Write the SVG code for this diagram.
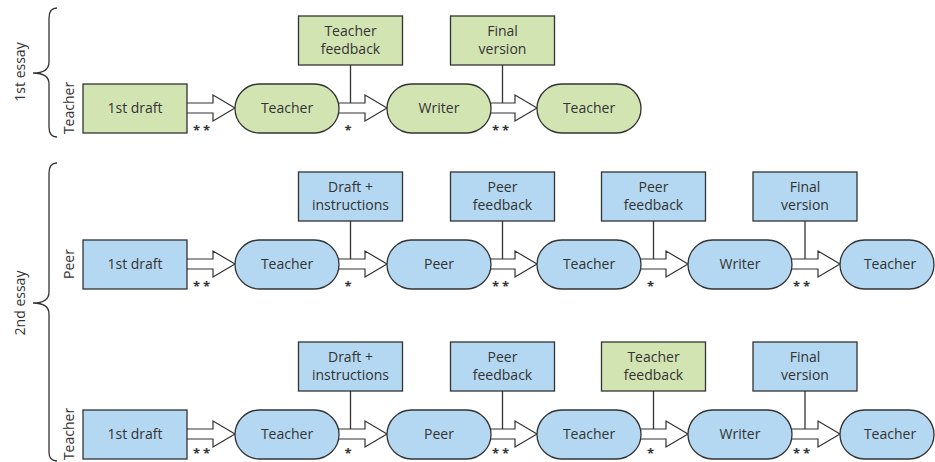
<svg xmlns="http://www.w3.org/2000/svg" width="935" height="462" viewBox="0 0 935 462">
<style>
text{font-family:"Open Sans","Noto Sans","Liberation Sans",sans-serif;font-size:14px;fill:#333;text-anchor:middle}
.g{fill:#d3e4b3;stroke:#333;stroke-width:1.3}
.b{fill:#b4d8f1;stroke:#333;stroke-width:1.3}
.ar{fill:#fff;stroke:#333;stroke-width:1.2;stroke-linejoin:miter}
.ln{stroke:#333;stroke-width:1.3;fill:none}
.br{stroke:#333;stroke-width:1.3;fill:none}
.st{font-weight:bold;font-size:13px;letter-spacing:3px}
</style>
<rect width="935" height="462" fill="#fff"/>
<g id="labels">
<path class="br" d="M57,8 Q49,8 49,18 L49,62 Q49,73 33,73 Q49,73 49,84 L49,127 Q49,137 57,137"/>
<path class="br" d="M57,163 Q49,163 49,173 L49,292 Q49,303 33,303 Q49,303 49,314 L49,452 Q49,461 57,461"/>
<text transform="translate(25,72) rotate(-90)">1st essay</text>
<text transform="translate(25,303) rotate(-90)">2nd essay</text>
<text transform="translate(74,108) rotate(-90)">Teacher</text>
<text transform="translate(74,264) rotate(-90)">Peer</text>
<text transform="translate(74,434) rotate(-90)">Teacher</text>
</g>
<g id="connectors">
<polygon class="ar" points="186,103 213,103 213,95 235,108 213,121 213,113 186,113"/>
<polygon class="ar" points="337,103 365,103 365,95 387,108 365,121 365,113 337,113"/>
<polygon class="ar" points="489,103 515,103 515,95 537,108 515,121 515,113 489,113"/>
<line class="ln" x1="350.5" y1="65" x2="350.5" y2="103"/>
<line class="ln" x1="502.5" y1="65" x2="502.5" y2="103"/>
<text class="st" x="203" y="135">**</text>
<text class="st" x="349.5" y="135">*</text>
<text class="st" x="502" y="135">**</text>
<polygon class="ar" points="186,259 213,259 213,251 235,264 213,277 213,269 186,269"/>
<polygon class="ar" points="337,259 365,259 365,251 387,264 365,277 365,269 337,269"/>
<polygon class="ar" points="489,259 515,259 515,251 537,264 515,277 515,269 489,269"/>
<polygon class="ar" points="639,259 666,259 666,251 688,264 666,277 666,269 639,269"/>
<polygon class="ar" points="790,259 818,259 818,251 840,264 818,277 818,269 790,269"/>
<line class="ln" x1="350.5" y1="221" x2="350.5" y2="259"/>
<line class="ln" x1="502.5" y1="221" x2="502.5" y2="259"/>
<line class="ln" x1="653.5" y1="221" x2="653.5" y2="259"/>
<line class="ln" x1="805" y1="221" x2="805" y2="259"/>
<text class="st" x="203" y="291">**</text>
<text class="st" x="349.5" y="291">*</text>
<text class="st" x="502" y="291">**</text>
<text class="st" x="652" y="291">*</text>
<text class="st" x="803" y="291">**</text>
<polygon class="ar" points="186,429 213,429 213,421 235,434 213,447 213,439 186,439"/>
<polygon class="ar" points="337,429 365,429 365,421 387,434 365,447 365,439 337,439"/>
<polygon class="ar" points="489,429 515,429 515,421 537,434 515,447 515,439 489,439"/>
<polygon class="ar" points="639,429 666,429 666,421 688,434 666,447 666,439 639,439"/>
<polygon class="ar" points="790,429 818,429 818,421 840,434 818,447 818,439 790,439"/>
<line class="ln" x1="350.5" y1="391" x2="350.5" y2="429"/>
<line class="ln" x1="502.5" y1="391" x2="502.5" y2="429"/>
<line class="ln" x1="653.5" y1="391" x2="653.5" y2="429"/>
<line class="ln" x1="805" y1="391" x2="805" y2="429"/>
<text class="st" x="203" y="458">**</text>
<text class="st" x="349.5" y="458">*</text>
<text class="st" x="502" y="458">**</text>
<text class="st" x="652" y="458">*</text>
<text class="st" x="803" y="458">**</text>
</g>
<g id="r1-draft"><rect class="g" x="83" y="84" width="104" height="49"/><text x="135" y="113">1st draft</text></g>
<g id="r1-teacher1"><rect class="g" x="235" y="84" width="104" height="49" rx="24.5"/><text x="287" y="113">Teacher</text></g>
<g id="r1-writer"><rect class="g" x="387" y="84" width="104" height="49" rx="24.5"/><text x="439" y="113">Writer</text></g>
<g id="r1-teacher2"><rect class="g" x="537" y="84" width="104" height="49" rx="24.5"/><text x="589" y="113">Teacher</text></g>
<g id="r1-tfeedback"><rect class="g" x="298.5" y="16" width="104" height="49"/><text x="350.5" y="36">Teacher</text><text x="350.5" y="53.5">feedback</text></g>
<g id="r1-final"><rect class="g" x="450.5" y="16" width="104" height="49"/><text x="502.5" y="36">Final</text><text x="502.5" y="53.5">version</text></g>
<g id="r2-draft"><rect class="b" x="83" y="240" width="104" height="49"/><text x="135" y="269">1st draft</text></g>
<g id="r2-teacher1"><rect class="b" x="235" y="240" width="104" height="49" rx="24.5"/><text x="287" y="269">Teacher</text></g>
<g id="r2-peer"><rect class="b" x="387" y="240" width="104" height="49" rx="24.5"/><text x="439" y="269">Peer</text></g>
<g id="r2-teacher2"><rect class="b" x="537" y="240" width="104" height="49" rx="24.5"/><text x="589" y="269">Teacher</text></g>
<g id="r2-writer"><rect class="b" x="688" y="240" width="104" height="49" rx="24.5"/><text x="740" y="269">Writer</text></g>
<g id="r2-teacher3"><rect class="b" x="840" y="240" width="94" height="49" rx="24.5"/><text x="890" y="269">Teacher</text></g>
<g id="r2-instr"><rect class="b" x="298.5" y="172" width="104" height="49"/><text x="350.5" y="192">Draft +</text><text x="350.5" y="209.5">instructions</text></g>
<g id="r2-pfeedback1"><rect class="b" x="450.5" y="172" width="104" height="49"/><text x="502.5" y="192">Peer</text><text x="502.5" y="209.5">feedback</text></g>
<g id="r2-pfeedback2"><rect class="b" x="601.5" y="172" width="104" height="49"/><text x="653.5" y="192">Peer</text><text x="653.5" y="209.5">feedback</text></g>
<g id="r2-final"><rect class="b" x="753" y="172" width="104" height="49"/><text x="805" y="192">Final</text><text x="805" y="209.5">version</text></g>
<g id="r3-draft"><rect class="b" x="83" y="410" width="104" height="49"/><text x="135" y="439">1st draft</text></g>
<g id="r3-teacher1"><rect class="b" x="235" y="410" width="104" height="49" rx="24.5"/><text x="287" y="439">Teacher</text></g>
<g id="r3-peer"><rect class="b" x="387" y="410" width="104" height="49" rx="24.5"/><text x="439" y="439">Peer</text></g>
<g id="r3-teacher2"><rect class="b" x="537" y="410" width="104" height="49" rx="24.5"/><text x="589" y="439">Teacher</text></g>
<g id="r3-writer"><rect class="b" x="688" y="410" width="104" height="49" rx="24.5"/><text x="740" y="439">Writer</text></g>
<g id="r3-teacher3"><rect class="b" x="840" y="410" width="94" height="49" rx="24.5"/><text x="890" y="439">Teacher</text></g>
<g id="r3-instr"><rect class="b" x="298.5" y="342" width="104" height="49"/><text x="350.5" y="362">Draft +</text><text x="350.5" y="379.5">instructions</text></g>
<g id="r3-pfeedback"><rect class="b" x="450.5" y="342" width="104" height="49"/><text x="502.5" y="362">Peer</text><text x="502.5" y="379.5">feedback</text></g>
<g id="r3-tfeedback"><rect class="g" x="601.5" y="342" width="104" height="49"/><text x="653.5" y="362">Teacher</text><text x="653.5" y="379.5">feedback</text></g>
<g id="r3-final"><rect class="b" x="753" y="342" width="104" height="49"/><text x="805" y="362">Final</text><text x="805" y="379.5">version</text></g>
</svg>
